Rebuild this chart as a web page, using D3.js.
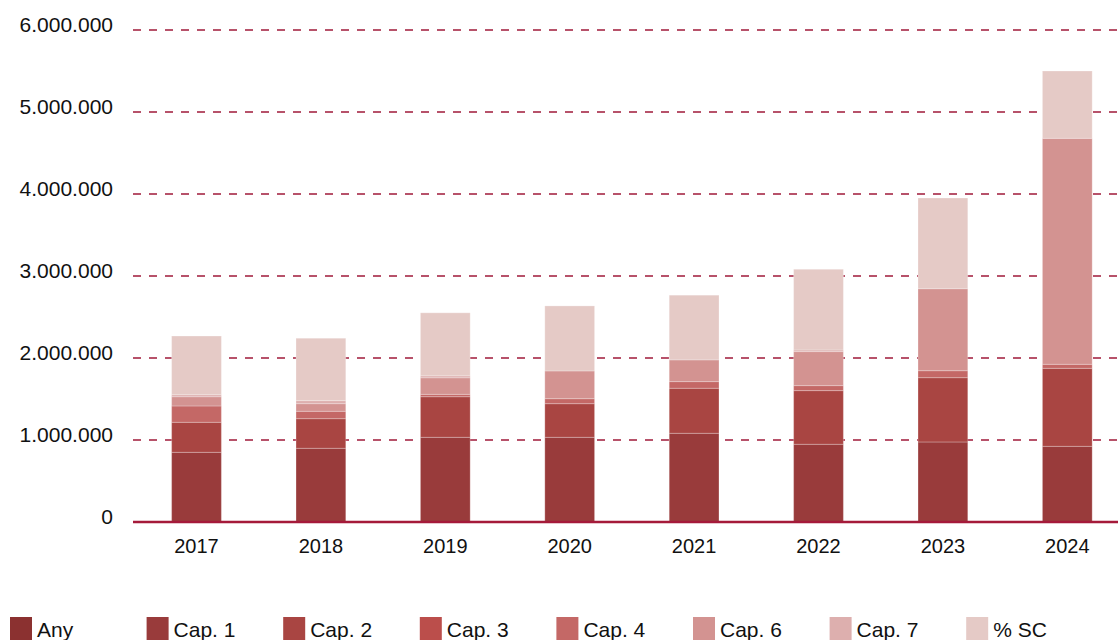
<!DOCTYPE html>
<html lang="en">
<head>
  <meta charset="UTF-8" />
  <title>Stacked bars 2017-2024</title>
  <style>
    body {
      margin: 0;
      background-color: white;
      font-family: "Helvetica Neue", Helvetica, "Liberation Sans", Arial, sans-serif;
    }
    svg {
      display: block;
    }
    .grid line {
      stroke: #a01a3a;
      stroke-width: 1.4;
      stroke-dasharray: 8, 8;
    }
    .ylabel, .xlabel, .legend-label {
      fill: #111;
    }
  </style>
  <script src="https://d3js.org/d3.v7.min.js"></script>
</head>
<body>
  <div id="chart"></div>

  <script>
    const years = ["2017", "2018", "2019", "2020", "2021", "2022", "2023", "2024"];
    const seriesNames = ["Any", "Cap. 1", "Cap. 2", "Cap. 3", "Cap. 4", "Cap. 6", "Cap. 7", "% SC"];
    const seriesColors = ["#8b3130", "#993b3b", "#a94542", "#bb4e4b", "#c46866", "#d39391", "#ddafae", "#e5cac6"];

    // values per series, one per year
    const any   = [0, 0, 0, 0, 0, 0, 0, 0];
    const cap1  = [850000, 899000, 1033000, 1033000, 1082000, 948000, 976000, 923000];
    const cap2  = [366000, 361000, 495000, 410000, 549000, 654000, 784000, 951000];
    const cap3  = [0, 0, 0, 0, 0, 0, 0, 0];
    const cap4  = [199000, 90000, 29000, 61000, 81000, 61000, 85000, 49000];
    const cap6  = [113000, 93000, 202000, 338000, 265000, 415000, 1000000, 2756000];
    const cap7  = [24000, 37000, 24000, 0, 0, 20000, 0, 0];
    const pctSC = [716000, 761000, 768000, 793000, 789000, 984000, 1106000, 821000];

    const yTicks = [0, 1000000, 2000000, 3000000, 4000000, 5000000, 6000000];

    const seriesValues = [any, cap1, cap2, cap3, cap4, cap6, cap7, pctSC];

    const width = 1118;
    const height = 640;

    const table = years.map((year, i) => {
      const row = { year: year };
      seriesNames.forEach((name, s) => { row[name] = seriesValues[s][i]; });
      return row;
    });

    const stacked = d3.stack().keys(seriesNames)(table);

    const x = d3.scaleBand()
      .domain(years)
      .range([134.3, 1129.5])
      .paddingInner(0.6)
      .paddingOuter(0.3);

    const y = d3.scaleLinear()
      .domain([0, 6000000])
      .range([522, 30]);

    const color = d3.scaleOrdinal().domain(seriesNames).range(seriesColors);

    const svg = d3.select("#chart")
      .append("svg")
      .attr("width", width)
      .attr("height", height);

    // gridlines
    svg.append("g")
      .attr("class", "grid")
      .selectAll("line")
      .data(yTicks.filter(d => d > 0))
      .enter().append("line")
      .attr("x1", 133)
      .attr("x2", width)
      .attr("y1", d => y(d))
      .attr("y2", d => y(d));

    // y labels
    svg.append("g")
      .selectAll("text")
      .data(yTicks)
      .enter().append("text")
      .attr("class", "ylabel")
      .attr("x", 113)
      .attr("y", d => y(d) + 2)
      .attr("text-anchor", "end")
      .attr("font-size", 21)
      .text(d => d3.format(",")(d).replace(/,/g, "."));

    // bars
    svg.append("g")
      .selectAll("g")
      .data(stacked)
      .enter().append("g")
      .attr("fill", d => color(d.key))
      .selectAll("rect")
      .data(d => d)
      .enter().append("rect")
      .attr("x", d => x(d.data.year))
      .attr("width", x.bandwidth())
      .attr("y", d => y(d[1]))
      .attr("height", d => y(d[0]) - y(d[1]))
      .attr("stroke", d => (d[1] - d[0]) > 0 ? "rgba(255,255,255,0.25)" : "none")
      .attr("stroke-width", 1);

    // baseline
    svg.append("line")
      .attr("x1", 133)
      .attr("x2", width)
      .attr("y1", y(0))
      .attr("y2", y(0))
      .attr("stroke", "#a51a3a")
      .attr("stroke-width", 2.5);

    // x labels
    svg.append("g")
      .selectAll("text")
      .data(years)
      .enter().append("text")
      .attr("class", "xlabel")
      .attr("x", d => x(d) + x.bandwidth() / 2)
      .attr("y", 553)
      .attr("text-anchor", "middle")
      .attr("font-size", 20)
      .text(d => d);

    // legend
    const legend = svg.append("g");
    seriesNames.forEach((name, i) => {
      const g = legend.append("g").attr("transform", `translate(${10 + i * 136.6}, 617)`);
      g.append("rect")
        .attr("width", 22)
        .attr("height", 26)
        .attr("fill", color(name));
      g.append("text")
        .attr("class", "legend-label")
        .attr("x", 27)
        .attr("y", 20)
        .attr("font-size", 21)
        .text(name);
    });
  </script>
</body>
</html>
